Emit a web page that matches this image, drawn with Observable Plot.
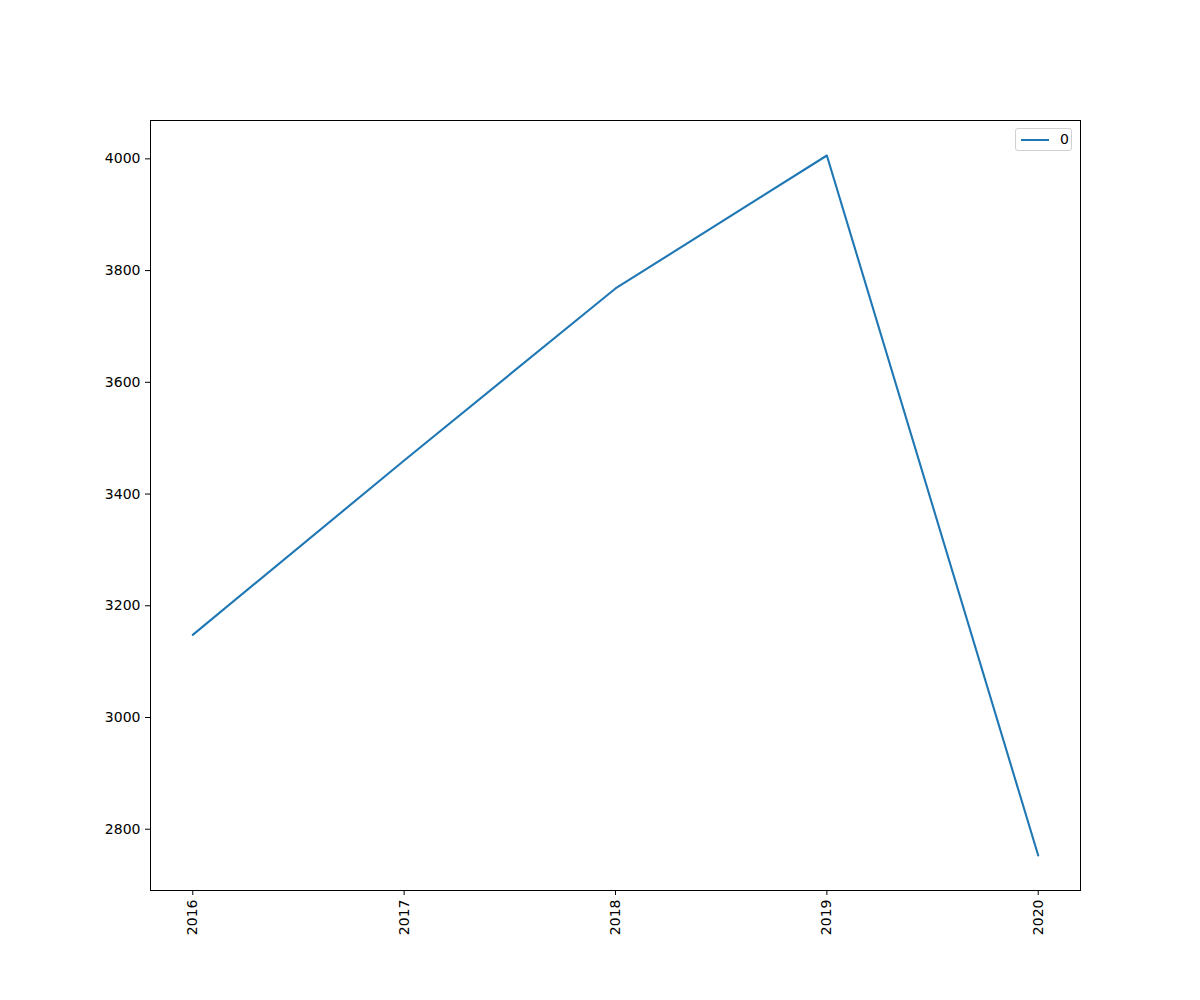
<!DOCTYPE html>
<html>
<head>
<meta charset="utf-8">
<script src="https://cdn.jsdelivr.net/npm/d3@7"></script>
<script src="https://cdn.jsdelivr.net/npm/@observablehq/plot@0.6"></script>
<style>
  body { margin: 0; background: #fff; font-family: "DejaVu Sans", sans-serif; }
  #wrap { position: relative; width: 1200px; height: 1000px; }
  #legend { position: absolute; left: 1015px; top: 128px; width: 57px; height: 23px;
    border: 1px solid #d0d0d0; border-radius: 3px; background: rgba(255,255,255,0.8);
    box-sizing: border-box; font-size: 14px; }
  #legend .sw { position: absolute; left: 5px; top: 10px; width: 28px; height: 2px; background: #1f77b4; }
  #legend .lb { position: absolute; left: 44px; top: 2px; line-height: 16px; color: #000; }
</style>
</head>
<body>
<div id="wrap"></div>
<script>
const years = [2016, 2017, 2018, 2019, 2020];
const values = [3148, 3460, 3768, 4006, 2753];
const seriesName = "0";
const yTicks = [2800, 3000, 3200, 3400, 3600, 3800, 4000];

const data = years.map((y, i) => ({year: y, value: values[i]}));
const vmin = d3.min(values), vmax = d3.max(values), vr = vmax - vmin;
const xr = years[years.length - 1] - years[0];

const chart = Plot.plot({
  width: 1200,
  height: 1000,
  marginLeft: 150,
  marginRight: 120,
  marginTop: 120,
  marginBottom: 110,
  style: {fontFamily: "DejaVu Sans, sans-serif", fontSize: "14px", color: "#000", background: "#fff"},
  x: {domain: [years[0] - 0.05 * xr, years[years.length - 1] + 0.05 * xr], ticks: years, tickFormat: "d",
      tickRotate: -90, tickSize: 5, tickPadding: 4, label: null},
  y: {domain: [vmin - 0.05 * vr, vmax + 0.05 * vr], ticks: yTicks, tickFormat: "d",
      tickSize: 5, tickPadding: 5, label: null},
  marks: [
    Plot.line(data, {x: "year", y: "value", stroke: "#1f77b4", strokeWidth: 2.1}),
    Plot.frame({stroke: "#000", strokeWidth: 1})
  ]
});
const wrap = document.getElementById("wrap");
wrap.appendChild(chart);
const lg = document.createElement("div");
lg.id = "legend";
lg.innerHTML = `<div class="sw"></div><div class="lb">${seriesName}</div>`;
wrap.appendChild(lg);
</script>
</body>
</html>
